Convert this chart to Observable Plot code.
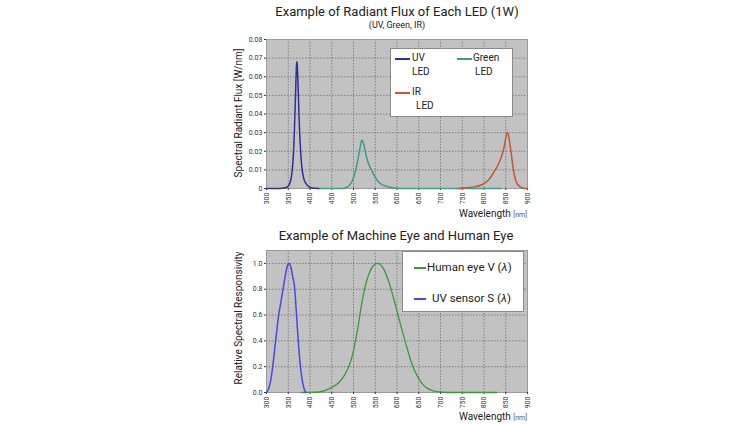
<!DOCTYPE html>
<html>
<head>
<meta charset="utf-8">
<script src="https://cdn.jsdelivr.net/npm/d3@7"></script>
<script src="https://cdn.jsdelivr.net/npm/@observablehq/plot@0.6"></script>
<style>
  html, body { margin:0; padding:0; background:#fff; }
  #wrap { position:relative; width:755px; height:425px; font-family: Roboto, "Noto Sans", sans-serif; color:#222; overflow:hidden; }
  #wrap svg { position:absolute; left:0; }
  .t { position:absolute; white-space:nowrap; }
  .lg { position:absolute; background:#fff; border:1px solid #8a8a8a; box-sizing:border-box; }
  .sw { position:absolute; height:0; border-top-width:2px; border-top-style:solid; }
  .nm { font-size:7px; color:#555; }
</style>
</head>
<body>
<div id="wrap"></div>
<script>
// ---------- data ----------
const xTicks = [300,350,400,450,500,550,600,650,700,750,800,850,900];
const yTicksTop = [0,0.01,0.02,0.03,0.04,0.05,0.06,0.07,0.08];
const yTicksBottom = [0,0.2,0.4,0.6,0.8,1.0];

const uvLedWl   = [300,330,345,352,357,361,364,366,368,369,370,371,373,375,378,381,385,390,397,405,420];
const uvLedFlux = [0,0,0.0005,0.002,0.006,0.015,0.03,0.045,0.06,0.066,0.068,0.065,0.052,0.037,0.022,0.012,0.006,0.003,0.001,0.0003,0];

const greenLedWl   = [420,470,480,490,497,503,508,512,516,519,522,526,531,537,542,550,560,575,595,620,700,840];
const greenLedFlux = [0,0,0.0003,0.0015,0.004,0.008,0.013,0.018,0.023,0.026,0.025,0.021,0.016,0.012,0.0095,0.006,0.003,0.0012,0.0003,0,0,0];

const irLedWl   = [740,765,780,795,808,818,826,833,840,846,850,853,856,859,863,867,872,878,885,895,900];
const irLedFlux = [0,0.0005,0.001,0.002,0.004,0.007,0.010,0.013,0.017,0.022,0.027,0.030,0.029,0.025,0.018,0.011,0.005,0.002,0.0006,0,0];

const humanWl  = [380,400,420,440,460,470,480,490,500,510,520,530,540,550,555,560,570,580,590,600,610,620,630,640,650,660,670,680,690,700,720,830];
const humanVal = [0,0.0004,0.004,0.023,0.06,0.091,0.139,0.208,0.323,0.503,0.71,0.862,0.954,0.995,1.0,0.995,0.952,0.87,0.757,0.631,0.503,0.381,0.265,0.175,0.107,0.061,0.032,0.017,0.008,0.004,0,0];

const uvSensWl  = [300,305,310,315,321,328,333,338,344,349,352,356,360,365,369,373,378,384,390];
const uvSensVal = [0,0.03,0.1,0.22,0.4,0.6,0.7,0.8,0.92,0.99,1.0,0.97,0.9,0.8,0.6,0.4,0.2,0.06,0];

const colors = { uvLed:"#2f2f96", greenLed:"#3a9f88", irLed:"#c4582e", human:"#3b9b3b", uvSens:"#4848e6" };

const toRows = (xs, ys) => xs.map((x,i) => ({x, y: ys[i]}));

const wrap = document.getElementById("wrap");

function common(yDomain, height, mt, mb) {
  return {
    width: 755, height, marginLeft: 266, marginRight: 228, marginTop: mt, marginBottom: mb,
    style: { fontFamily: "Roboto, sans-serif", fontSize: "7px", background: "transparent", color:"#333" },
    x: { domain: [300, 900] },
    y: { domain: yDomain },
  };
}

function baseMarks(yTicks, fmt) {
  return [
    Plot.frame({ fill: "#c2c2c2" }),
    Plot.gridX(xTicks, { stroke: "#808080", strokeOpacity: 1, strokeDasharray: "1.5,1.5" }),
    Plot.gridY(yTicks, { stroke: "#808080", strokeOpacity: 1, strokeDasharray: "1.5,1.5" }),
    Plot.frame({ stroke: "#9a9a9a" }),
    Plot.axisX(xTicks, { tickRotate: -90, tickSize: 2, tickPadding: 2, label: null, tickFormat: d => String(d) }),
    Plot.axisY(yTicks, { tickSize: 2, tickPadding: 2, label: null, tickFormat: fmt })
  ];
}

// ---------- top chart ----------
const chartTop = Plot.plot({
  ...common([0, 0.08], 225, 39, 37),
  marks: [
    ...baseMarks(yTicksTop, d => d === 0 ? "0" : d.toFixed(2)),
    Plot.line(toRows(greenLedWl, greenLedFlux), { x: "x", y: "y", stroke: colors.greenLed, strokeWidth: 1.5, curve: "monotone-x" }),
    Plot.line(toRows(irLedWl, irLedFlux), { x: "x", y: "y", stroke: colors.irLed, strokeWidth: 1.5, curve: "monotone-x" }),
    Plot.line(toRows(uvLedWl, uvLedFlux), { x: "x", y: "y", stroke: colors.uvLed, strokeWidth: 1.5, curve: "monotone-x" })
  ]
});
chartTop.style.top = "0px";
wrap.appendChild(chartTop);

// ---------- bottom chart ----------
const chartBottom = Plot.plot({
  ...common([0, 1.1], 200, 25, 33),
  marks: [
    ...baseMarks(yTicksBottom, d => d.toFixed(1)),
    Plot.line(toRows(humanWl, humanVal), { x: "x", y: "y", stroke: colors.human, strokeWidth: 1.3, curve: "monotone-x" }),
    Plot.line(toRows(uvSensWl, uvSensVal), { x: "x", y: "y", stroke: colors.uvSens, strokeWidth: 1.5, curve: "monotone-x" })
  ]
});
chartBottom.style.top = "225px";
wrap.appendChild(chartBottom);

// ---------- text & legends ----------
function txt(html, css) {
  const d = document.createElement("div");
  d.className = "t";
  d.innerHTML = html;
  Object.assign(d.style, css);
  wrap.appendChild(d);
  return d;
}
txt("Example of Radiant Flux of Each LED (1W)", { left: "397px", top: "4px", fontSize: "13px", transform: "translateX(-50%)" });
txt("(UV, Green, IR)", { left: "397px", top: "20px", fontSize: "9px", transform: "translateX(-50%)" });
txt("Example of Machine Eye and Human Eye", { left: "396px", top: "228px", fontSize: "13px", transform: "translateX(-50%)" });

txt("Spectral Radiant Flux [W/nm]", { left: "238px", top: "113px", fontSize: "10px", transform: "translate(-50%,-50%) rotate(-90deg)" });
txt("Relative Spectral Responsivity", { left: "238px", top: "318px", fontSize: "10px", transform: "translate(-50%,-50%) rotate(-90deg)" });

txt('Wavelength <span class="nm">[nm]</span>', { right: "228px", top: "208px", fontSize: "10px" });
txt('Wavelength <span class="nm">[nm]</span>', { right: "228px", top: "411px", fontSize: "10px" });

function box(css) { const d = document.createElement("div"); d.className = "lg"; Object.assign(d.style, css); wrap.appendChild(d); return d; }
function sw(color, l, t, w) { const d = document.createElement("div"); d.className = "sw"; Object.assign(d.style, { left: l + "px", top: t + "px", width: w + "px", borderTopColor: color }); wrap.appendChild(d); }

// top legend
box({ left: "390px", top: "48px", width: "123px", height: "69px" });
sw(colors.uvLed, 395, 58, 15);
txt("UV", { left: "412px", top: "52px", fontSize: "10px" });
txt("LED", { left: "412px", top: "66px", fontSize: "10px" });
sw(colors.greenLed, 457, 58, 15);
txt("Green", { left: "473px", top: "52px", fontSize: "10px" });
txt("LED", { left: "475px", top: "66px", fontSize: "10px" });
sw(colors.irLed, 395, 92, 15);
txt("IR", { left: "412px", top: "86px", fontSize: "10px" });
txt("LED", { left: "416px", top: "100px", fontSize: "10px" });

// bottom legend
box({ left: "402px", top: "251px", width: "122px", height: "61px" });
sw(colors.human, 414, 267, 12);
txt("Human eye V (<i>λ</i>)", { left: "427px", top: "260px", fontSize: "11.5px" });
sw(colors.uvSens, 414, 298, 12);
txt("UV sensor S (<i>λ</i>)", { left: "432px", top: "291px", fontSize: "11.5px" });
</script>
</body>
</html>
